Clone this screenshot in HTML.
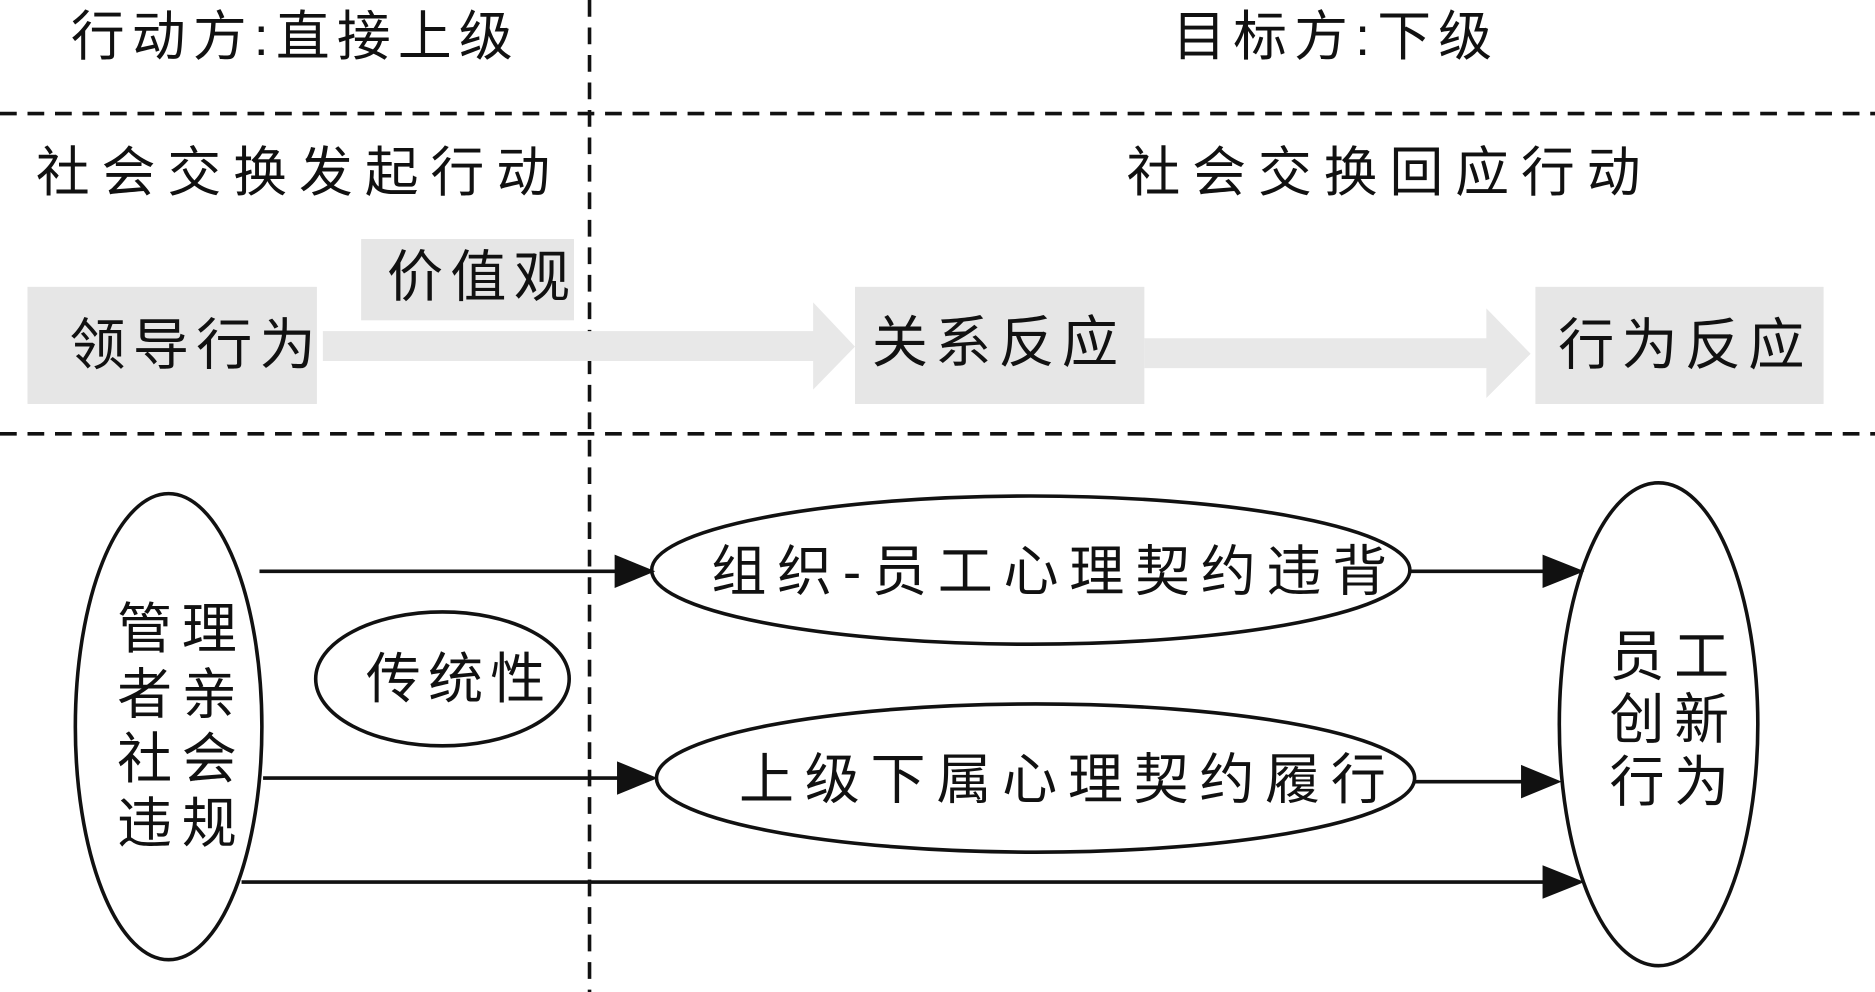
<!DOCTYPE html>
<html><head><meta charset="utf-8"><style>
html,body{margin:0;padding:0;background:#fff;width:1875px;height:992px;overflow:hidden}
svg{display:block}
text{font-family:"Liberation Sans","Noto Sans CJK SC",sans-serif;fill:#111}
</style></head><body>
<svg width="1875" height="992" viewBox="0 0 1568 830" preserveAspectRatio="none">
<g stroke="#111" stroke-width="3" stroke-dasharray="14,9" fill="none">
<line x1="493" y1="0" x2="493" y2="830"/>
<line x1="0" y1="95" x2="1568" y2="95"/>
<line x1="0" y1="363" x2="1568" y2="363"/>
</g>
<text x="247" y="46" font-size="45" text-anchor="middle" letter-spacing="6">行动方:直接上级</text>
<text x="1117" y="46" font-size="45" text-anchor="middle" letter-spacing="6">目标方:下级</text>
<text x="250" y="160" font-size="45" text-anchor="middle" letter-spacing="10">社会交换发起行动</text>
<text x="1162" y="160" font-size="45" text-anchor="middle" letter-spacing="10">社会交换回应行动</text>
<polygon points="270,277 680,277 680,253 715,290 680,326 680,302 270,302" fill="#e8e8e8"/>
<polygon points="957,283 1243,283 1243,258 1280,296 1243,333 1243,308 957,308" fill="#e8e8e8"/>
<rect x="23" y="240" width="242" height="98" fill="#e6e6e6"/>
<rect x="302" y="200" width="178" height="68" fill="#e6e6e6"/>
<rect x="715" y="240" width="242" height="98" fill="#e6e6e6"/>
<rect x="1284" y="240" width="241" height="98" fill="#e6e6e6"/>
<text x="164" y="305" font-size="47" text-anchor="middle" letter-spacing="6">领导行为</text>
<text x="403" y="248" font-size="47" text-anchor="middle" letter-spacing="6">价值观</text>
<text x="835" y="303" font-size="47" text-anchor="middle" letter-spacing="6">关系反应</text>
<text x="1409" y="305" font-size="47" text-anchor="middle" letter-spacing="6">行为反应</text>
<g fill="none" stroke="#111" stroke-width="3">
<ellipse cx="141" cy="608" rx="78" ry="195"/>
<ellipse cx="370" cy="568" rx="106" ry="56"/>
<ellipse cx="862" cy="477" rx="317" ry="62"/>
<ellipse cx="866" cy="651" rx="317" ry="62"/>
<ellipse cx="1387" cy="606" rx="83" ry="202"/>
</g>
<g font-size="46" text-anchor="middle" letter-spacing="8">
<text x="152" y="542">管理</text>
<text x="152" y="597">者亲</text>
<text x="152" y="651">社会</text>
<text x="152" y="705">违规</text>
<text x="384" y="584" letter-spacing="6">传统性</text>
<text x="882" y="494" letter-spacing="9">组织-员工心理契约违背</text>
<text x="893" y="668" letter-spacing="9">上级下属心理契约履行</text>
<text x="1400" y="565">员工</text>
<text x="1400" y="618">创新</text>
<text x="1400" y="670">行为</text>
</g>
<g stroke="#111" stroke-width="3">
<line x1="217" y1="478" x2="520" y2="478"/>
<line x1="1180" y1="478" x2="1295" y2="478"/>
<line x1="220" y1="651" x2="522" y2="651"/>
<line x1="1183" y1="654" x2="1277" y2="654"/>
<line x1="202" y1="738" x2="1295" y2="738"/>
</g>
<g fill="#111">
<polygon points="514,464 548,478 514,492"/>
<polygon points="1290,464 1325,478 1290,492"/>
<polygon points="516,637 550,651 516,665"/>
<polygon points="1272,640 1306,654 1272,668"/>
<polygon points="1290,724 1325,738 1290,752"/>
</g>
</svg>
</body></html>
